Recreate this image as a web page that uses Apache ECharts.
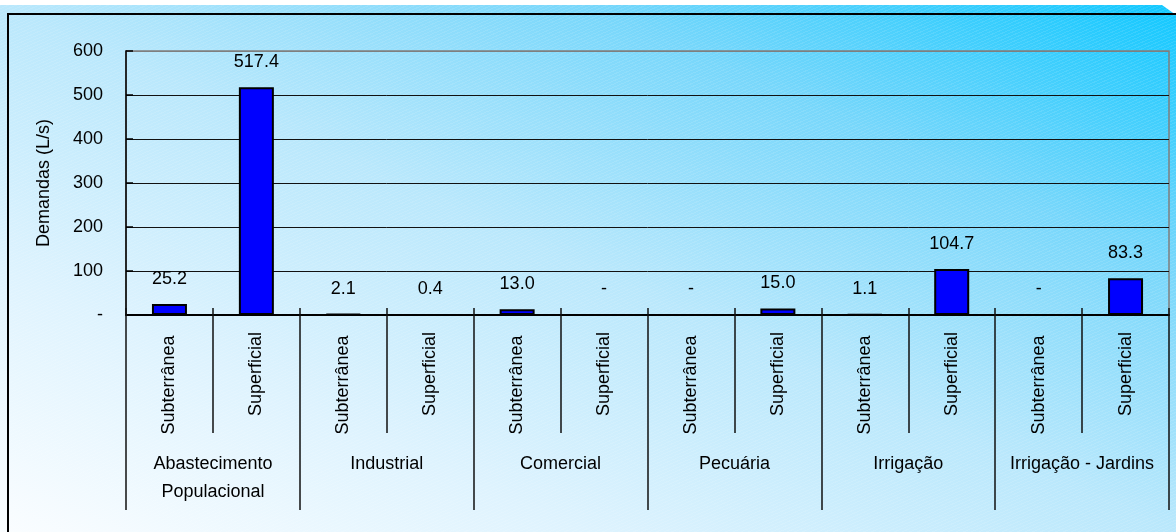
<!DOCTYPE html>
<html>
<head>
<meta charset="utf-8">
<script src="https://cdn.jsdelivr.net/npm/echarts@6/dist/echarts.min.js"></script>
<style>
  html, body { margin: 0; padding: 0; background: #ffffff; }
  #wrap { position: relative; width: 1176px; height: 532px; overflow: hidden; background: #ffffff; }
  #bg {
    position: absolute; left: 0; top: 5px; width: 1176px; height: 527px;
    background:
      repeating-linear-gradient(157deg, rgba(255,255,255,0.10) 0px, rgba(255,255,255,0.10) 1px, rgba(255,255,255,0) 1px, rgba(255,255,255,0) 3px),
      linear-gradient(to top right, #fafdff 0%, #def3fe 25%, #bae8fc 50%, #78d7fb 75%, #12c8ff 100%);
    clip-path: polygon(0 0, 1162px 0, 1176px 10px, 1176px 527px, 0 527px);
  }
  #frame {
    position: absolute; left: 7px; top: 13px; width: 1200px; height: 600px;
    border-left: 2px solid #000; border-top: 2px solid #000;
  }
  #chart { position: absolute; left: 0; top: 0; width: 1176px; height: 532px; }
</style>
</head>
<body>
<div id="wrap">
  <div id="bg"></div>
  <div id="frame"></div>
  <div id="chart"></div>
</div>
<script>
// Water demand by use and by source (L/s)
const groups = ['Abastecimento\nPopulacional', 'Industrial', 'Comercial', 'Pecuária', 'Irrigação', 'Irrigação - Jardins'];
const sources = ['Subterrânea', 'Superficial'];
const subterranea = [25.2, 2.1, 13.0, 0, 1.1, 0];
const superficial = [517.4, 0.4, 0, 15.0, 104.7, 83.3];
const yTickValues = [0, 100, 200, 300, 400, 500, 600];

// one category per (use, source) pair
const categories = [];
const values = [];
groups.forEach(function (g, i) {
  categories.push(sources[0]); values.push(subterranea[i]);
  categories.push(sources[1]); values.push(superficial[i]);
});

const FONT = '"Liberation Sans", Arial, sans-serif';
const txt = { fontFamily: FONT, fontSize: 18, color: '#000' };

const chart = echarts.init(document.getElementById('chart'), null, { renderer: 'canvas' });
chart.setOption({
  backgroundColor: 'transparent',
  animation: false,
  grid: {
    left: 126, right: 7, top: 51, bottom: 217,
    show: true, borderColor: '#7f7f7f', borderWidth: 1.5, backgroundColor: 'transparent'
  },
  xAxis: [
    {
      // source labels (rotated) with short separators
      type: 'category', data: categories, position: 'bottom', offset: -7,
      axisLine: { show: false },
      axisTick: { show: true, length: 125, lineStyle: { color: '#111', width: 1.5 } },
      axisLabel: Object.assign({
        rotate: 90, margin: 77, align: 'center', verticalAlign: 'middle', interval: 0,
        formatter: function (v) { return v === sources[0] ? '{sub|' + v + '}' : '{sup|' + v + '}'; },
        rich: {
          sub: { fontFamily: FONT, fontSize: 18, color: '#000' },
          sup: { fontFamily: FONT, fontSize: 18, color: '#000', padding: [0, 0, 0, 22] }
        }
      }, txt),
      splitLine: { show: false }
    },
    {
      // use groups with long separators
      type: 'category', data: groups, position: 'bottom', offset: -7,
      axisLine: { show: false },
      axisTick: { show: true, length: 202, lineStyle: { color: '#111', width: 1.5 } },
      axisLabel: Object.assign({ margin: 142, verticalAlign: 'top', lineHeight: 28, interval: 0 }, txt),
      splitLine: { show: false }
    },
    {
      // baseline at zero
      type: 'category', data: categories, position: 'bottom', offset: 0,
      axisLine: { show: true, lineStyle: { color: '#000', width: 2 } },
      axisTick: { show: false },
      axisLabel: { show: false },
      splitLine: { show: false }
    }
  ],
  yAxis: {
    type: 'value', min: yTickValues[0], max: yTickValues[yTickValues.length - 1], interval: 100,
    name: 'Demandas (L/s)', nameLocation: 'middle', nameGap: 73, nameRotate: 90,
    nameTextStyle: txt,
    axisLine: { show: true, lineStyle: { color: '#000', width: 1.5 } },
    axisTick: { show: true, inside: true, length: 7, lineStyle: { color: '#000', width: 1.5 } },
    axisLabel: Object.assign({ margin: 23, formatter: function (v) { return v === 0 ? '-' : String(v); } }, txt),
    splitLine: {
      show: true,
      lineStyle: { color: ['#000', '#111', '#111', '#111', '#111', '#111', '#7f7f7f'], width: 1 }
    }
  },
  series: [{
    type: 'bar', xAxisIndex: 2, data: values, barWidth: 35,
    itemStyle: { color: '#0000ff', borderColor: '#000', borderWidth: 2 },
    label: Object.assign({
      show: true, position: 'top', distance: 16,
      formatter: function (p) { return p.value === 0 ? '-' : p.value.toFixed(1); }
    }, txt)
  }]
});
</script>
</body>
</html>
